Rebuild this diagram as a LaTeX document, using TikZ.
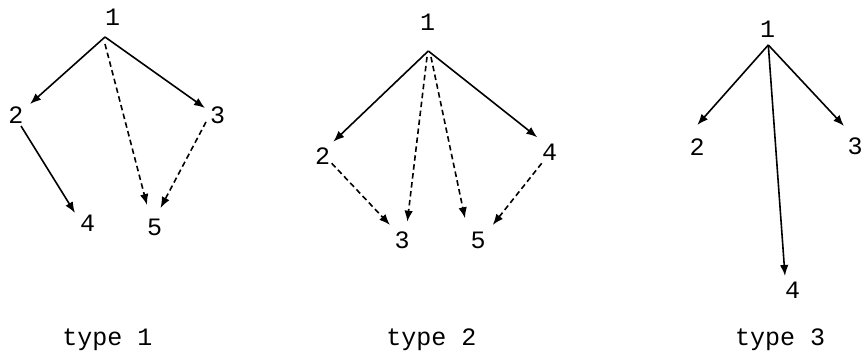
\documentclass[tikz,border=0pt]{standalone}
\usepackage{fontspec}
\setmainfont{Liberation Mono}
\usetikzlibrary{arrows.meta}
\begin{document}
\begin{tikzpicture}[x=1pt,y=-1pt,
  lbl/.style={inner sep=0pt,font=\fontsize{25}{30}\selectfont},
  edge/.style={line width=1.6pt,-{Latex[length=11pt,width=8.5pt]}},
  dedge/.style={edge,dash pattern=on 5.5pt off 3.5pt}]
\useasboundingbox (0,0) rectangle (861,352);
% ---------- type 1 ----------
\node[lbl] (t1n1) at (112.5,17.5) {1};
\node[lbl] (t1n2) at (16,115) {2};
\node[lbl] (t1n3) at (217.5,115) {3};
\node[lbl] (t1n4) at (87.5,223.5) {4};
\node[lbl] (t1n5) at (154.5,227.5) {5};
\node[lbl,anchor=base] (t1cap) at (107.5,345) {type 1};
\coordinate (t1a) at (105,37);
\coordinate (t1d) at (105,44);
\coordinate (t1e2) at (30,104);
\coordinate (t1e3) at (205,108);
\coordinate (t1s2) at (21,126);
\coordinate (t1e4) at (75,213);
\coordinate (t1e5a) at (147,205);
\coordinate (t1s3) at (206,122);
\coordinate (t1e5b) at (160.5,208);
\draw[edge] (t1a) -- (t1e2);
\draw[edge] (t1a) -- (t1e3);
\draw[edge] (t1s2) -- (t1e4);
\draw[dedge] (t1d) -- (t1e5a);
\draw[dedge] (t1s3) -- (t1e5b);
% ---------- type 2 ----------
\node[lbl] (t2n1) at (427.5,22.5) {1};
\node[lbl] (t2n2) at (322.5,156) {2};
\node[lbl] (t2n4) at (549.5,152.5) {4};
\node[lbl] (t2n3) at (402,240) {3};
\node[lbl] (t2n5) at (478,240) {5};
\node[lbl,anchor=base] (t2cap) at (431.5,345) {type 2};
\coordinate (t2a) at (428.3,51);
\coordinate (t2e2) at (333.3,141.7);
\coordinate (t2e4) at (537.3,137.3);
\coordinate (t2d3) at (427,57);
\coordinate (t2e3a) at (407.3,221.7);
\coordinate (t2d5) at (431,57);
\coordinate (t2e5a) at (465,218.3);
\coordinate (t2s2) at (331.7,163.3);
\coordinate (t2e3b) at (390,225);
\coordinate (t2s4) at (541.7,163.3);
\coordinate (t2e5b) at (492.7,225);
\draw[edge] (t2a) -- (t2e2);
\draw[edge] (t2a) -- (t2e4);
\draw[dedge] (t2d3) -- (t2e3a);
\draw[dedge] (t2d5) -- (t2e5a);
\draw[dedge] (t2s2) -- (t2e3b);
\draw[dedge] (t2s4) -- (t2e5b);
% ---------- type 3 ----------
\node[lbl] (t3n1) at (767.5,29) {1};
\node[lbl] (t3n2) at (697,147) {2};
\node[lbl] (t3n3) at (855,146.5) {3};
\node[lbl] (t3n4) at (792.5,290.5) {4};
\node[lbl,anchor=base] (t3cap) at (780,345) {type 3};
\coordinate (t3a) at (768.3,45);
\coordinate (t3e2) at (697.3,125);
\coordinate (t3e3) at (844,126);
\coordinate (t3e4) at (785,276);
\draw[edge] (t3a) -- (t3e2);
\draw[edge] (t3a) -- (t3e3);
\draw[edge] (t3a) -- (t3e4);
\end{tikzpicture}
\end{document}
